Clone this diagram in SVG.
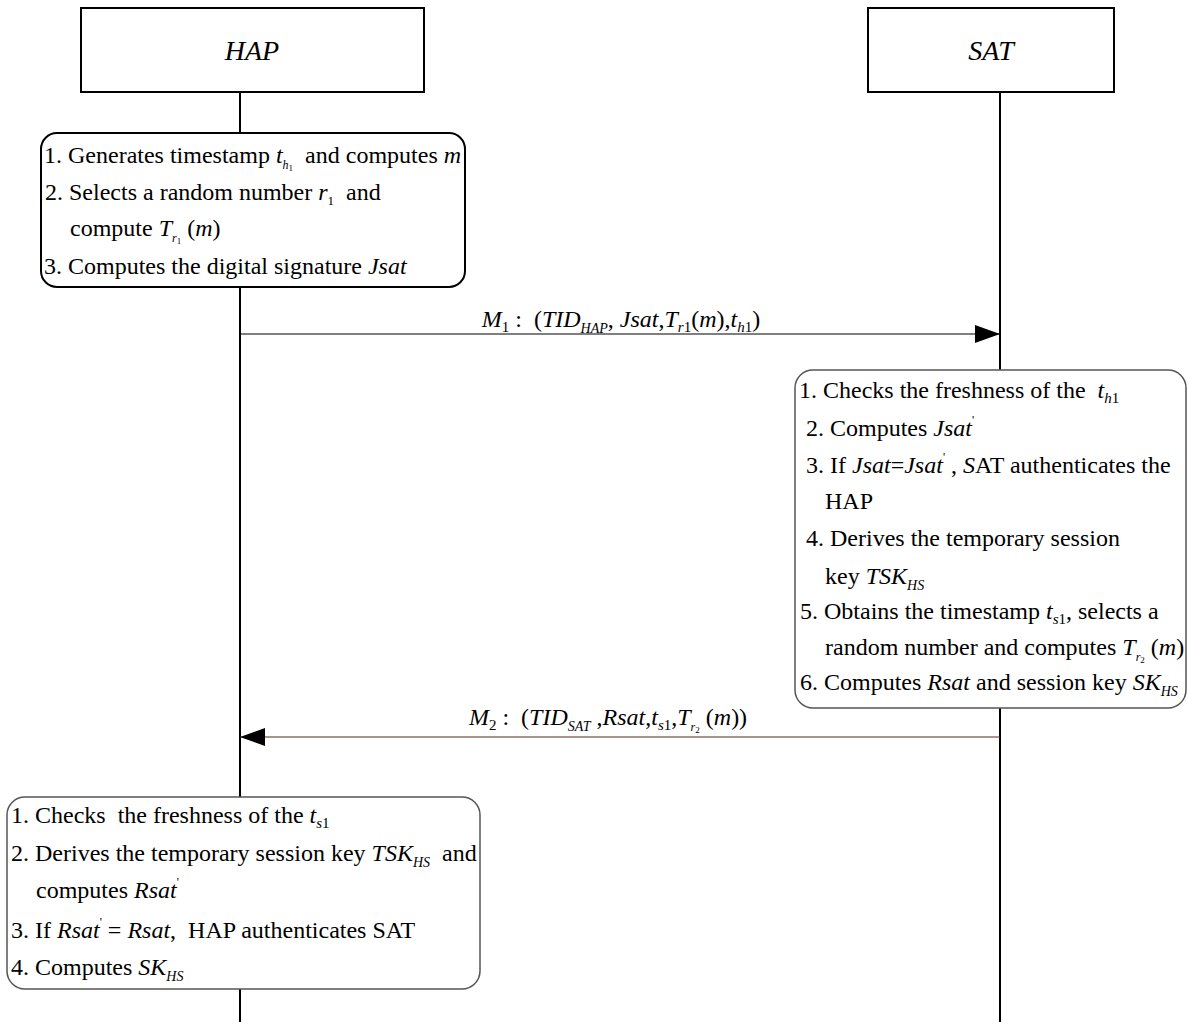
<svg xmlns="http://www.w3.org/2000/svg" width="1188" height="1022" viewBox="0 0 1188 1022" xml:space="preserve">
<defs>
<style>
text{font-family:"Liberation Serif","Times New Roman",serif;font-size:24px;fill:#000;white-space:pre}
.i{font-style:italic}
.hd{font-size:28px;font-style:italic}
.box{fill:#fff;stroke:#000;stroke-width:2}
.nb{fill:#fff;stroke:#000;stroke-width:2}
.nb2{fill:#fff;stroke:#555;stroke-width:1.5}
.life{stroke:#000;stroke-width:2;fill:none}
.msg{stroke:#000;stroke-width:1.2;fill:none}
</style>
<marker id="ah" markerUnits="userSpaceOnUse" markerWidth="26" markerHeight="18" refX="25" refY="9" orient="auto">
<path d="M0,0 L25,9 L0,18 Z" fill="#000"/>
</marker>
</defs>

<g id="lifelines">
<line class="life" x1="240" y1="92" x2="240" y2="1022"/>
<line class="life" x1="1000" y1="92" x2="1000" y2="1022"/>
</g>

<g id="hap">
<rect class="box" x="81" y="8" width="343" height="84"/>
<text class="hd" x="252" y="60" text-anchor="middle">HAP</text>
</g>

<g id="sat">
<rect class="box" x="868" y="8" width="246" height="84"/>
<text class="hd" x="991" y="60" text-anchor="middle">SAT</text>
</g>

<g id="connectors">
<line class="msg" x1="240" y1="334" x2="1000" y2="334" marker-end="url(#ah)"/>
<text x="621" y="327" text-anchor="middle"><tspan class="i">M</tspan><tspan font-size="15" dy="5">1</tspan><tspan dy="-5"> :  (</tspan><tspan class="i">TID</tspan><tspan class="i" font-size="14" dy="6">HAP</tspan><tspan dy="-6">, </tspan><tspan class="i">Jsat</tspan><tspan>,</tspan><tspan class="i">T</tspan><tspan class="i" font-size="15" dy="5">r</tspan><tspan font-size="15">1</tspan><tspan dy="-5">(</tspan><tspan class="i">m</tspan><tspan>),</tspan><tspan class="i">t</tspan><tspan class="i" font-size="15" dy="5">h</tspan><tspan font-size="15">1</tspan><tspan dy="-5">)</tspan></text>
<line x1="1000" y1="737" x2="240" y2="737" stroke="#5a2a1e" stroke-width="1.2" marker-end="url(#ah)"/>
<text x="608" y="725" text-anchor="middle"><tspan class="i">M</tspan><tspan font-size="15" dy="5">2</tspan><tspan dy="-5"> :  (</tspan><tspan class="i">TID</tspan><tspan class="i" font-size="14" dy="6">SAT</tspan><tspan dy="-6"> ,</tspan><tspan class="i">Rsat</tspan><tspan>,</tspan><tspan class="i">t</tspan><tspan class="i" font-size="15" dy="5">s</tspan><tspan font-size="15">1</tspan><tspan dy="-5">,</tspan><tspan class="i">T</tspan><tspan class="i" font-size="12" dy="6">r</tspan><tspan font-size="9" dy="2">2</tspan><tspan dy="-8"> (</tspan><tspan class="i">m</tspan><tspan>))</tspan></text>
</g>

<g id="hap-step1">
<rect class="nb" x="41" y="133" width="424" height="154" rx="16"/>
<text x="44" y="163">1. Generates timestamp <tspan class="i">t</tspan><tspan class="i" font-size="12" dy="6">h</tspan><tspan font-size="9" dy="2">1</tspan><tspan dy="-8">  and computes </tspan><tspan class="i">m</tspan></text>
<text x="45" y="200">2. Selects a random number <tspan class="i">r</tspan><tspan font-size="13" dy="5">1</tspan><tspan dy="-5">  and</tspan></text>
<text x="70" y="236">compute <tspan class="i">T</tspan><tspan class="i" font-size="12" dy="6">r</tspan><tspan font-size="9" dy="2">1</tspan><tspan dy="-8"> (</tspan><tspan class="i">m</tspan>)</text>
<text x="44" y="274">3. Computes the digital signature <tspan class="i">Jsat</tspan></text>
</g>

<g id="sat-step">
<rect class="nb2" x="795" y="370" width="391" height="338" rx="18"/>
<text x="799" y="398">1. Checks the freshness of the  <tspan class="i">t</tspan><tspan class="i" font-size="15" dy="5">h</tspan><tspan font-size="15">1</tspan></text>
<text x="806" y="436">2. Computes <tspan class="i">Jsat</tspan><tspan font-size="12" dy="-12">'</tspan></text>
<text x="806" y="473">3. If <tspan class="i">Jsat</tspan>=<tspan class="i">Jsat</tspan><tspan font-size="12" dy="-12">'</tspan><tspan dy="12"> , </tspan><tspan class="i">S</tspan>AT authenticates the</text>
<text x="825" y="509">HAP</text>
<text x="806" y="546">4. Derives the temporary session</text>
<text x="825" y="584">key <tspan class="i">TSK</tspan><tspan class="i" font-size="14" dy="6">HS</tspan></text>
<text x="800" y="619">5. Obtains the timestamp <tspan class="i">t</tspan><tspan class="i" font-size="15" dy="5">s</tspan><tspan font-size="15">1</tspan><tspan dy="-5">, selects a</tspan></text>
<text x="825" y="655">random number and computes <tspan class="i">T</tspan><tspan class="i" font-size="12" dy="6">r</tspan><tspan font-size="9" dy="2">2</tspan><tspan dy="-8"> (</tspan><tspan class="i">m</tspan>)</text>
<text x="800" y="690">6. Computes <tspan class="i">Rsat</tspan> and session key <tspan class="i">SK</tspan><tspan class="i" font-size="14" dy="6">HS</tspan></text>
</g>

<g id="hap-step2">
<rect class="nb2" x="7" y="797" width="473" height="192" rx="18"/>
<text x="11" y="823">1. Checks  the freshness of the <tspan class="i">t</tspan><tspan class="i" font-size="15" dy="5">s</tspan><tspan font-size="15">1</tspan></text>
<text x="11" y="861">2. Derives the temporary session key <tspan class="i">TSK</tspan><tspan class="i" font-size="14" dy="6">HS</tspan><tspan dy="-6">  and</tspan></text>
<text x="36" y="898">computes <tspan class="i">Rsat</tspan><tspan font-size="12" dy="-12">'</tspan></text>
<text x="11" y="938">3. If <tspan class="i">Rsat</tspan><tspan font-size="12" dy="-12">'</tspan><tspan dy="12"> = </tspan><tspan class="i">Rsat</tspan>,  HAP authenticates SAT</text>
<text x="11" y="975">4. Computes <tspan class="i">SK</tspan><tspan class="i" font-size="14" dy="6">HS</tspan></text>
</g>
</svg>
